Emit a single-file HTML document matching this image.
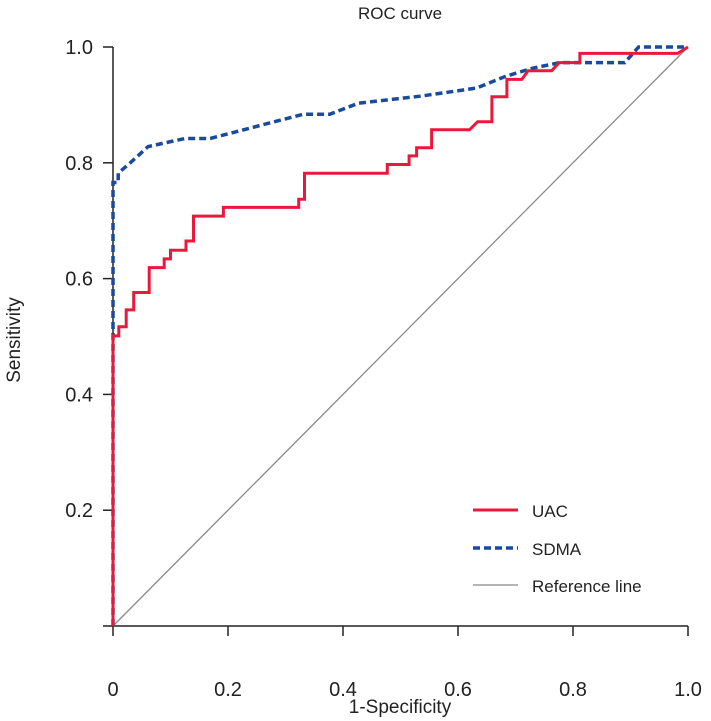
<!DOCTYPE html>
<html><head><meta charset="utf-8"><style>
html,body{margin:0;padding:0;background:#fff;}
svg{display:block;font-family:"Liberation Sans",sans-serif;}
</style></head><body>
<svg id="chart" width="711" height="721" viewBox="0 0 711 721">
<text x="400" y="19" text-anchor="middle" font-size="17" fill="#222">ROC curve</text>
<g id="axes"></g>
<g id="series"></g>
<text transform="translate(20,340) rotate(-90)" text-anchor="middle" font-size="19" fill="#222">Sensitivity</text>
<text x="400" y="713" text-anchor="middle" font-size="19" fill="#222">1-Specificity</text>
<g>
<g><line x1="473" y1="510" x2="518" y2="510" stroke="#e8193c" stroke-width="3"/><text x="532" y="517" font-size="17" fill="#222">UAC</text></g>
<g><line x1="473" y1="548" x2="518" y2="548" stroke="#1a4a9c" stroke-width="3.5" stroke-dasharray="7,4"/><text x="532" y="555" font-size="17" fill="#222">SDMA</text></g>
<g><line x1="473" y1="585" x2="518" y2="585" stroke="#888" stroke-width="1.3"/><text x="532" y="592" font-size="17" fill="#222">Reference line</text></g>
</g>
</svg>
<script>
const xTicks=[0,0.2,0.4,0.6,0.8,1.0];
const xTickLabels=["0","0.2","0.4","0.6","0.8","1.0"];
const yTicks=[0.2,0.4,0.6,0.8,1.0];
const yTickLabels=["0.2","0.4","0.6","0.8","1.0"];
const uacFpr=[0,0,0.010,0.010,0.023,0.023,0.036,0.036,0.063,0.063,0.089,0.089,0.100,0.100,0.127,0.127,0.140,0.140,0.192,0.192,0.323,0.323,0.333,0.333,0.477,0.477,0.515,0.515,0.528,0.528,0.554,0.554,0.620,0.634,0.659,0.659,0.685,0.685,0.711,0.722,0.763,0.776,0.812,0.812,0.982,1.0];
const uacTpr=[0,0.501,0.501,0.517,0.517,0.546,0.546,0.576,0.576,0.619,0.619,0.634,0.634,0.649,0.649,0.665,0.665,0.708,0.708,0.723,0.723,0.737,0.737,0.782,0.782,0.797,0.797,0.812,0.812,0.826,0.826,0.857,0.857,0.871,0.871,0.914,0.914,0.944,0.944,0.959,0.959,0.973,0.973,0.989,0.989,1.0];
const sdmaFpr=[0,0,0.009,0.009,0.030,0.061,0.125,0.169,0.331,0.377,0.427,0.534,0.632,0.682,0.728,0.777,0.890,0.914,1.0];
const sdmaTpr=[0,0.766,0.766,0.782,0.800,0.828,0.842,0.842,0.884,0.884,0.903,0.915,0.929,0.949,0.963,0.973,0.973,1.0,1.0];
const X0=113,X1=688,Y0=626,Y1=47;
const sx=v=>X0+v*(X1-X0), sy=v=>Y0-v*(Y0-Y1);
const NS="http://www.w3.org/2000/svg";
function mk(tag,attrs,parent){const e=document.createElementNS(NS,tag);for(const k in attrs)e.setAttribute(k,attrs[k]);parent.appendChild(e);return e;}
const axes=document.getElementById('axes'), series=document.getElementById('series');
const xa=mk('line',{x1:X0-10,y1:Y0,x2:X1,y2:Y0,stroke:'#222','stroke-width':1.5},axes);


const ya=mk('line',{x1:X0,y1:Y0,x2:X0,y2:Y1,stroke:'#222','stroke-width':1.5},axes);


xTicks.forEach((t,i)=>{
  mk('line',{x1:sx(t),y1:Y0,x2:sx(t),y2:Y0+10,stroke:'#222','stroke-width':1.5},axes);
  const tx=mk('text',{x:sx(t),y:Y0+70,'text-anchor':'middle','font-size':20,fill:'#222'},axes);
  tx.textContent=xTickLabels[i];
  
  
});
yTicks.forEach((t,i)=>{
  mk('line',{x1:X0-10,y1:sy(t),x2:X0,y2:sy(t),stroke:'#222','stroke-width':1.5},axes);
  const tx=mk('text',{x:X0-20,y:sy(t)+7,'text-anchor':'end','font-size':20,fill:'#222'},axes);
  tx.textContent=yTickLabels[i];
  
  
});
const ref=mk('line',{x1:sx(0),y1:sy(0),x2:sx(1),y2:sy(1),stroke:'#888','stroke-width':1.3},series);


const pts=(xs,ys)=>xs.map((v,i)=>sx(v).toFixed(1)+','+sy(ys[i]).toFixed(1)).join(' ');
const sd=mk('polyline',{points:pts(sdmaFpr,sdmaTpr),fill:'none',stroke:'#1a4a9c','stroke-width':3.5,'stroke-dasharray':'7,4'},series);


const ua=mk('polyline',{points:pts(uacFpr,uacTpr),fill:'none',stroke:'#e8193c','stroke-width':3},series);


</script>
</body></html>
